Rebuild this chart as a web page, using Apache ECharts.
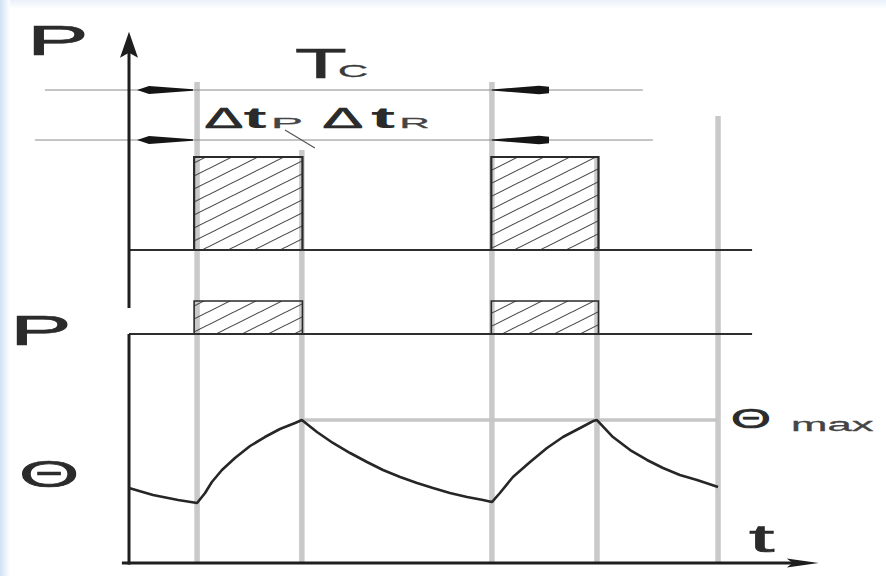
<!DOCTYPE html>
<html><head><meta charset="utf-8">
<script src="https://cdn.jsdelivr.net/npm/echarts@6/dist/echarts.min.js"></script>
<style>html,body{margin:0;padding:0;background:#fff}#c{width:886px;height:576px}</style>
</head><body><div id="c"></div>
<script>
// ---- data (time t in s, Tc = 10 s; vertical level in arbitrary units) ----
const curveT = [0, 0.81, 1.66, 2.30, 2.57, 2.80, 3.14, 3.58, 4.09, 4.59, 5.10, 5.61, 5.84,
  6.35, 6.89, 7.47, 8.04, 8.58, 9.16, 9.73, 10.27, 10.84, 11.42, 11.96, 12.26,
  12.53, 12.97, 13.55, 14.12, 14.66, 15.24, 15.68, 15.81,
  16.35, 16.93, 17.50, 18.04, 18.61, 19.19, 19.90];
const curveV = [14.20, 12.88, 11.93, 11.36, 13.26, 15.34, 17.61, 19.89, 22.16, 23.86, 25.38, 26.52, 27.08,
  24.81, 22.73, 20.83, 19.13, 17.61, 16.29, 15.15, 14.20, 13.26, 12.50, 11.93, 11.55,
  13.26, 16.29, 19.13, 21.78, 23.86, 25.57, 26.89, 27.08,
  23.86, 21.40, 19.51, 17.99, 16.67, 15.72, 14.39];
const pulseStart = [2.20, 12.24];
const pulseEnd = [5.86, 15.86];
const upperPulse = [59.28, 76.89];   // baseline, top
const lowerPulse = [43.37, 49.62];   // baseline, top
const markerT = [2.30, 5.84, 12.26, 15.81, 19.90];
const markerTop = [91.1, 78.2, 91.1, 76.9, 84.66];
const thetaMax = 27.08;
const baselineEnd = 21.05;
const dimLevels = [89.58, 80.11];
const dimFrom = [-2.84, -3.18];
const dimTo = [17.36, 17.70];
const leftArrowT = [0.27, 2.16];
const rightArrowT = [12.26, 14.19];
const leader = [5.27, 82.0, 6.28, 78.6];
const upperAxisV = [48.30, 99.0];
const lowerAxisV = [43.37, -0.3];
const yArrowTip = [0, 100.6];
const tAxis = [-0.24, 22.6];
const tArrowTip = [23.30, 0];

// ---- hatch pattern ----
const tile = document.createElement('canvas');
tile.width = 26; tile.height = 13;
const g = tile.getContext('2d');
g.strokeStyle = '#474747'; g.lineWidth = 1.1;
[-1, 0, 1].forEach(k => { g.beginPath(); g.moveTo(0, 13 + 13 * k); g.lineTo(26, 13 * k); g.stroke(); });
const hatch = { image: tile, repeat: 'repeat' };

const chart = echarts.init(document.getElementById('c'), null, { renderer: 'svg' });

function segSeries(name, segs, color, width, z) {
  return {
    type: 'custom', name, coordinateSystem: 'cartesian2d', z, silent: true, clip: false,
    data: segs,
    renderItem(params, api) {
      const a = api.coord([api.value(0), api.value(1)]);
      const b = api.coord([api.value(2), api.value(3)]);
      return { type: 'line', shape: { x1: a[0], y1: a[1], x2: b[0], y2: b[1] },
        style: { stroke: color, lineWidth: width, lineCap: 'butt' } };
    }
  };
}
function rectSeries(name, level, lw) {
  return {
    type: 'custom', name, coordinateSystem: 'cartesian2d', z: 3, silent: true, clip: false,
    data: pulseStart.map((s, i) => [s, pulseEnd[i], level[0], level[1]]),
    renderItem(params, api) {
      const p1 = api.coord([api.value(0), api.value(3)]);
      const p2 = api.coord([api.value(1), api.value(2)]);
      return { type: 'rect', shape: { x: p1[0], y: p1[1], width: p2[0] - p1[0], height: p2[1] - p1[1] },
        style: { fill: hatch, stroke: '#2a2a2a', lineWidth: lw } };
    }
  };
}

const series = [
  segSeries('markers', markerT.map((t, i) => [t, markerTop[i], t, 0]), '#c9c9c9', 5.5, 1),
  segSeries('thetaMax', [[markerT[1], thetaMax, markerT[4], thetaMax]], '#c6c6c6', 3.5, 1),
  segSeries('dims', dimLevels.map((v, i) => [dimFrom[i], v, dimTo[i], v]), '#8c8c8c', 1, 2),
  segSeries('leader', [leader], '#555', 1.2, 2),
  rectSeries('upperPulses', upperPulse, 2.2),
  rectSeries('lowerPulses', lowerPulse, 1.6),
  segSeries('baselines', [[0, upperPulse[0], baselineEnd, upperPulse[0]], [0, lowerPulse[0], baselineEnd, lowerPulse[0]]], '#2e2e2e', 2.2, 4),
  segSeries('axes', [[0, upperAxisV[0], 0, upperAxisV[1]], [0, lowerAxisV[0], 0, lowerAxisV[1]], [tAxis[0], 0, tAxis[1], 0]], '#1e1e1e', 3, 6),
  {
    type: 'custom', name: 'axisArrows', coordinateSystem: 'cartesian2d', z: 6, silent: true, clip: false,
    data: [[yArrowTip[0], yArrowTip[1], 0], [tArrowTip[0], tArrowTip[1], 1]],
    renderItem(params, api) {
      const p = api.coord([api.value(0), api.value(1)]);
      const pts = api.value(2) === 0
        ? [[p[0], p[1]], [p[0] - 9, p[1] + 26], [p[0], p[1] + 21], [p[0] + 9, p[1] + 26]]
        : [[p[0], p[1]], [p[0] - 32, p[1] - 4.5], [p[0] - 26, p[1]], [p[0] - 32, p[1] + 4.5]];
      return { type: 'polygon', shape: { points: pts }, style: { fill: '#1e1e1e' } };
    }
  },
  {
    type: 'custom', name: 'dimArrows', coordinateSystem: 'cartesian2d', z: 5, silent: true, clip: false,
    data: dimLevels.flatMap(v => [[leftArrowT[0], leftArrowT[1], v, 0], [rightArrowT[0], rightArrowT[1], v, 1]]),
    renderItem(params, api) {
      const a = api.coord([api.value(0), api.value(2)]);
      const b = api.coord([api.value(1), api.value(2)]);
      const y = a[1];
      const pts = api.value(3) === 0
        ? [[a[0], y], [a[0] + 12, y - 4], [b[0], y - 0.8], [b[0], y + 0.8], [a[0] + 12, y + 4]]
        : [[a[0], y - 0.6], [b[0] - 10, y - 4.2], [b[0], y - 3.2], [b[0], y + 3.2], [b[0] - 10, y + 4.2], [a[0], y + 0.6]];
      return { type: 'polygon', shape: { points: pts }, style: { fill: '#151515' } };
    }
  },
  {
    type: 'line', name: 'Θ', data: curveT.map((t, i) => [t, curveV[i]]), symbol: 'none', z: 7,
    lineStyle: { color: '#262626', width: 2.6 }, silent: true, clip: false
  }
];

const FF = '"Liberation Sans", Arial, sans-serif';
function txt(s, x, y, size, sx, color, weight, sw) {
  const c = color || '#2b2b2b';
  return { type: 'text', x, y, scaleX: sx, z: 50,
    style: { text: s, font: (weight || 'normal') + ' ' + size + 'px ' + FF, fill: c,
      stroke: c, lineWidth: sw == null ? 0.7 : sw,
      align: 'left', verticalAlign: 'middle' } };
}

chart.setOption({
  animation: false,
  backgroundColor: '#ffffff',
  grid: { left: 0, right: 0, top: 0, bottom: 0 },
  xAxis: { type: 'value', min: -4.358, max: 25.574, show: false },
  yAxis: { type: 'value', min: -2.462, max: 106.629, show: false },
  graphic: [
    { type: 'rect', shape: { x: 0, y: 0, width: 886, height: 9 }, z: -10,
      style: { fill: new echarts.graphic.LinearGradient(0, 0, 0, 1, [{ offset: 0, color: '#e9f1fa' }, { offset: 1, color: '#ffffff' }]) } },
    { type: 'rect', shape: { x: 0, y: 0, width: 10, height: 576 }, z: -9,
      style: { fill: new echarts.graphic.LinearGradient(0, 0, 1, 0, [{ offset: 0, color: '#cfe1f4' }, { offset: 1, color: '#ffffff' }]) } },
    txt('P', 27, 40.3, 42, 2.2),
    txt('P', 10, 330, 42, 2.2),
    txt('Θ', 19, 474, 36, 2.15),
    txt('T', 295, 63, 43, 1.97),
    txt('C', 338, 71.4, 16, 2.6, '#3a3a3a', 'normal', 0.3),
    txt('Δ', 204.5, 117.8, 29, 2.0),
    txt('t', 243.5, 117.8, 29, 2.4, '#2b2b2b', 'bold', 0),
    txt('P', 271, 122.7, 15, 3.2, '#444', 'normal', 0.3),
    txt('Δ', 322.5, 117.8, 29, 2.1),
    txt('t', 371, 117.8, 29, 2.5, '#2b2b2b', 'bold', 0),
    txt('R', 399.6, 123, 14, 3.0, '#444', 'normal', 0.3),
    txt('Θ', 731, 418.5, 27, 1.9),
    txt('max', 791, 424.3, 19, 2.3, '#444', 'normal', 0.3),
    txt('t', 749, 538.7, 38, 2.4)
  ],
  series
});
</script></body></html>
